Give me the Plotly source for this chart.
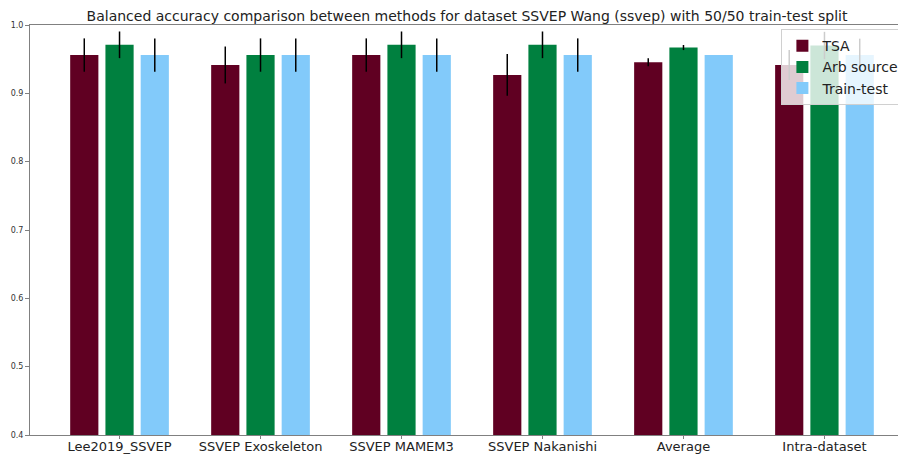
import plotly.graph_objects as go

# datasets on the x axis
datasets = ["Lee2019_SSVEP", "SSVEP Exoskeleton", "SSVEP MAMEM3",
            "SSVEP Nakanishi", "Average", "Intra-dataset"]

# balanced accuracy per method, with std as error bars
tsa = [0.956, 0.9415, 0.956, 0.927, 0.9455, 0.9415]
tsa_err = [0.0244, 0.027, 0.0244, 0.0305, 0.006, 0.022]

arb_source = [0.971, 0.956, 0.971, 0.971, 0.967, 0.970]
arb_source_err = [0.0195, 0.0244, 0.0195, 0.0195, 0.0037, 0.020]

train_test = [0.956, 0.956, 0.956, 0.956, 0.956, 0.956]
train_test_err = [0.0244, 0.0244, 0.0244, 0.0244, 0.0, 0.024]

methods = [("TSA", tsa, tsa_err, "#600022"),
           ("Arb source", arb_source, arb_source_err, "#00803F"),
           ("Train-test", train_test, train_test_err, "#82CAFA")]

fig = go.Figure()
for name, vals, errs, col in methods:
    fig.add_bar(x=datasets, y=vals, name=name, marker_color=col,
                marker_line_width=0,
                error_y=dict(type="data", array=errs, color="black",
                             thickness=1.5, width=0))

# page body has an 8px margin, so the figure is laid out 8px up/left
font = "DejaVu Sans"
fig.update_layout(
    width=906, height=456,
    margin=dict(l=22, r=0, t=17, b=29, autoexpand=False),
    plot_bgcolor="white", paper_bgcolor="white",
    barmode="group", bargap=0.25, bargroupgap=0.2,
    font=dict(family=font, color="#222222"),
    title=dict(text="Balanced accuracy comparison between methods for dataset SSVEP Wang (ssvep) with 50/50 train-test split",
               x=(459 / 906), xanchor="center", xref="container",
               y=1 - 8 / 456, yanchor="middle", yref="container",
               font=dict(family=font, size=14, color="#222222")),
    legend=dict(x=0.85, y=0.99, xanchor="left", yanchor="top",
                bgcolor="rgba(255,255,255,0.8)", bordercolor="#d0d0d0",
                borderwidth=1, font=dict(family=font, size=14, color="#222222"),
                tracegroupgap=0),
)
fig.update_xaxes(range=[-0.635, 5.635], showline=True, linecolor="#808080",
                 linewidth=1, mirror=True, ticks="outside", ticklen=3,
                 tickcolor="#808080", tickfont=dict(size=13, color="#222222"),
                 ticklabelstandoff=-4,
                 showgrid=False, automargin=False)
fig.update_yaxes(range=[0.4, 1.0], dtick=0.1, tickformat=".1f", showline=True,
                 linecolor="#808080", linewidth=1, ticks="outside", ticklen=4,
                 tickcolor="#808080", tickfont=dict(size=8, color="#333333"),
                 showgrid=False, zeroline=False, automargin=False)

fig.write_html("out.html")
